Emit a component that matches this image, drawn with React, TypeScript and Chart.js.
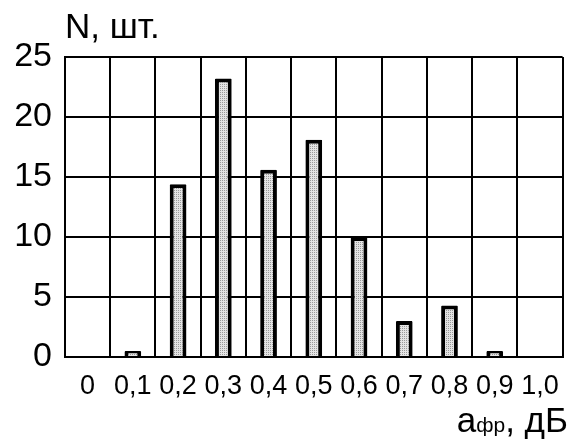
import React, { useEffect, useRef } from "react";
import { Chart, registerables } from "chart.js";

Chart.register(...registerables);

const categories = ["0", "0,1", "0,2", "0,3", "0,4", "0,5", "0,6", "0,7", "0,8", "0,9", "1,0"];
const counts = [0, 0.5, 14.4, 23.2, 15.6, 18.1, 10, 3.0, 4.3, 0.5, 0];
const yTicks = [0, 5, 10, 15, 20, 25];
const yTitle = "N, шт.";
const xTitleMain = "а";
const xTitleSub = "фр";
const xTitleRest = ", дБ";

const FONT = "'Liberation Sans', Arial, sans-serif";

function makePattern(): CanvasPattern | string {
  const c = document.createElement("canvas");
  c.width = 2;
  c.height = 2;
  const ctx = c.getContext("2d");
  if (!ctx) return "#d0d0d0";
  ctx.fillStyle = "#e4e4e4";
  ctx.fillRect(0, 0, 2, 2);
  ctx.fillStyle = "#9a9a9a";
  ctx.fillRect(0, 0, 1, 1);
  const p = ctx.createPattern(c, "repeat");
  return p || "#d0d0d0";
}

const titlesPlugin = {
  id: "titlesPlugin",
  afterDraw(chart: any) {
    const ctx = chart.ctx;
    ctx.save();
    ctx.fillStyle = "#000";
    ctx.textBaseline = "alphabetic";
    ctx.textAlign = "left";
    ctx.font = `35px ${FONT}`;
    ctx.fillText(yTitle, 65, 38);
    const big = `35px ${FONT}`;
    const small = `21px ${FONT}`;
    ctx.font = big;
    const wA = ctx.measureText(xTitleMain).width;
    const wR = ctx.measureText(xTitleRest).width;
    ctx.font = small;
    const wS = ctx.measureText(xTitleSub).width;
    const right = 568;
    const baseline = 432;
    let x = right - (wA + wS + wR);
    ctx.font = big;
    ctx.fillText(xTitleMain, x, baseline);
    x += wA;
    ctx.font = small;
    ctx.fillText(xTitleSub, x, baseline);
    x += wS;
    ctx.font = big;
    ctx.fillText(xTitleRest, x, baseline);
    ctx.restore();
  },
};

export default function App() {
  const ref = useRef<HTMLCanvasElement | null>(null);
  useEffect(() => {
    if (!ref.current) return;
    const chart = new Chart(ref.current, {
      type: "bar",
      data: {
        labels: categories,
        datasets: [
          {
            data: counts,
            backgroundColor: makePattern() as any,
            borderColor: "#000",
            borderWidth: 4,
            borderRadius: 1,
            barPercentage: 0.37,
            categoryPercentage: 1,
          },
        ],
      },
      plugins: [titlesPlugin],
      options: {
        animation: false,
        responsive: false,
        maintainAspectRatio: false,
        layout: { padding: { top: 57, right: 6, left: 0, bottom: 0 } },
        plugins: { legend: { display: false }, tooltip: { enabled: false } },
        scales: {
          x: {
            offset: true,
            grid: { color: "#000", lineWidth: 2, drawTicks: false, offset: true },
            border: { color: "#000", width: 2 },
            ticks: {
              color: "#000",
              font: { family: FONT, size: 27 },
              padding: 13,
              maxRotation: 0,
              autoSkip: false,
            },
            afterFit: (s: any) => {
              s.height = 445 - 357;
            },
          },
          y: {
            min: 0,
            max: 25,
            afterBuildTicks: (s: any) => {
              s.ticks = yTicks.map((v) => ({ value: v }));
            },
            grid: { color: "#000", lineWidth: 2, drawTicks: false },
            border: { color: "#000", width: 2 },
            ticks: {
              color: "#000",
              font: { family: FONT, size: 34 },
              padding: 13,
            },
            afterFit: (s: any) => {
              s.width = 65;
            },
          },
        },
      },
    });
    return () => chart.destroy();
  }, []);
  return (
    <div style={{ position: "fixed", left: 0, top: 0, width: 572, height: 445, background: "#fff" }}>
      <canvas ref={ref} width={572} height={445} style={{ display: "block" }} />
    </div>
  );
}
